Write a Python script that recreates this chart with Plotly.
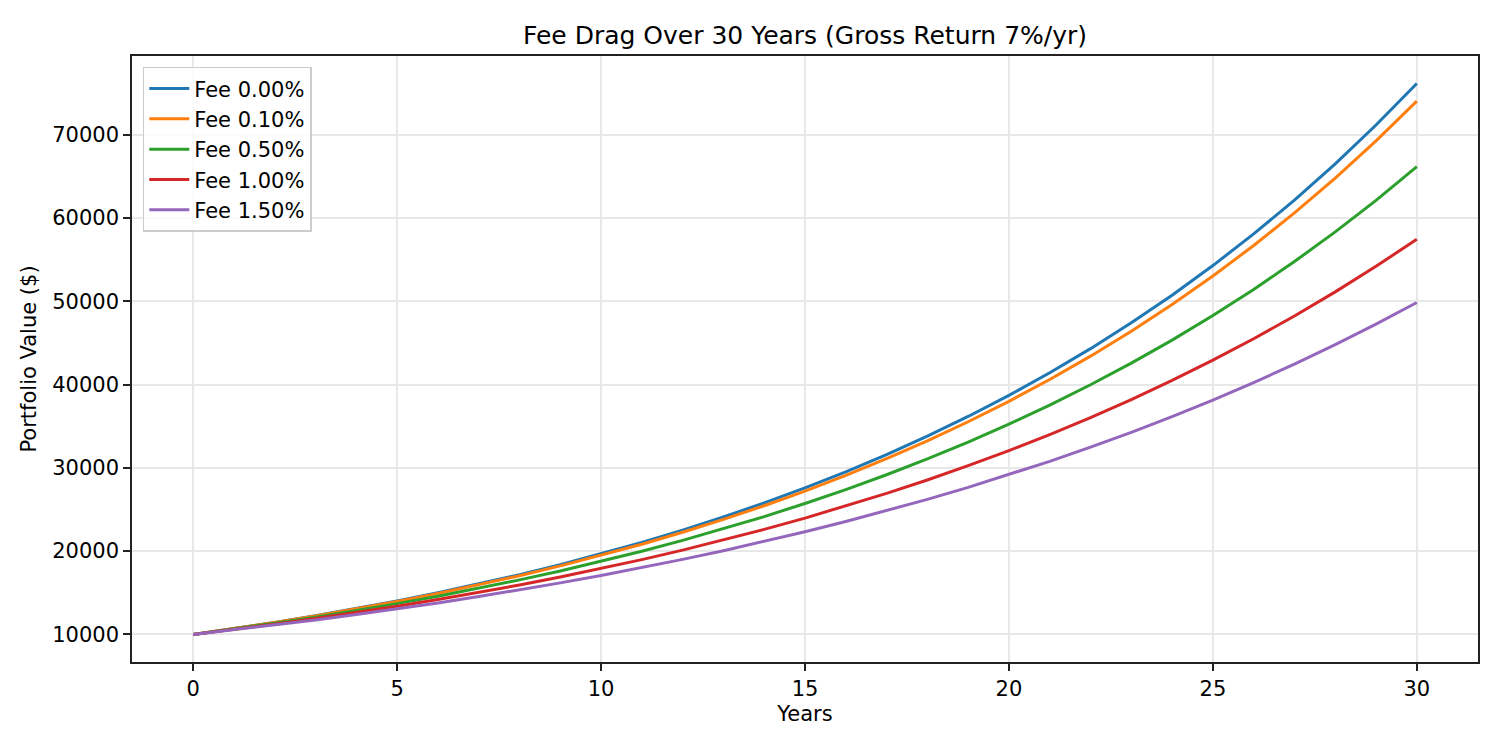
import plotly.graph_objects as go

years = list(range(31))

fee_labels = ["Fee 0.00%", "Fee 0.10%", "Fee 0.50%", "Fee 1.00%", "Fee 1.50%"]
colors = ["#1f77b4", "#ff7f0e", "#2ca02c", "#d62728", "#9467bd"]

fee_000 = [10000, 10700, 11449, 12250, 13108, 14026, 15007, 16058, 17182, 18385,
           19672, 21049, 22522, 24098, 25785, 27590, 29522, 31588, 33799, 36165,
           38697, 41406, 44304, 47405, 50724, 54274, 58074, 62139, 66488, 71143,
           76123]
fee_010 = [10000, 10690, 11428, 12216, 13059, 13960, 14923, 15953, 17054, 18231,
           19489, 20833, 22271, 23807, 25450, 27206, 29083, 31090, 33235, 35528,
           37980, 40600, 43402, 46397, 49598, 53020, 56679, 60590, 64770, 69239,
           74017]
fee_050 = [10000, 10650, 11342, 12079, 12865, 13701, 14591, 15540, 16550, 17626,
           18771, 19991, 21291, 22675, 24149, 25718, 27390, 29170, 31067, 33086,
           35236, 37527, 39966, 42564, 45330, 48277, 51415, 54757, 58316, 62107,
           66144]
fee_100 = [10000, 10600, 11236, 11910, 12625, 13382, 14185, 15036, 15938, 16895,
           17908, 18983, 20122, 21329, 22609, 23966, 25404, 26928, 28543, 30256,
           32071, 33996, 36035, 38197, 40489, 42919, 45494, 48223, 51117, 54184,
           57435]
fee_150 = [10000, 10550, 11130, 11742, 12388, 13070, 13788, 14547, 15347, 16191,
           17081, 18021, 19012, 20058, 21161, 22325, 23553, 24848, 26215, 27656,
           29178, 30782, 32475, 34261, 36146, 38134, 40231, 42444, 44778, 47241,
           49840]

series = [fee_000, fee_010, fee_050, fee_100, fee_150]

fig = go.Figure()
for label, color, values in zip(fee_labels, colors, series):
    fig.add_trace(go.Scatter(
        x=years,
        y=values,
        mode="lines",
        name=label,
        line=dict(color=color, width=3)
    ))

axis_style = dict(
    showline=True,
    linecolor="#222222",
    linewidth=1.6,
    mirror=True,
    ticks="outside",
    ticklen=7,
    tickwidth=1.6,
    tickcolor="#222222",
    showgrid=True,
    gridcolor="#e8e8e8",
    gridwidth=1.5,
    zeroline=False,
    tickfont=dict(size=21, color="black"),
)

# page body adds an 8px offset, so margins are shifted by 8
fig.update_layout(
    width=1500,
    height=750,
    font=dict(family="DejaVu Sans", size=21, color="black"),
    paper_bgcolor="white",
    plot_bgcolor="white",
    margin=dict(l=124, r=30, t=48, b=96),
    title=dict(
        text="Fee Drag Over 30 Years (Gross Return 7%/yr)",
        x=0.5,
        xref="paper",
        y=1 - 27 / 750,
        yref="container",
        xanchor="center",
        yanchor="middle",
        font=dict(size=25),
    ),
    legend=dict(
        x=0.008,
        y=0.982,
        xanchor="left",
        yanchor="top",
        bgcolor="rgba(255,255,255,0.8)",
        bordercolor="#cccccc",
        borderwidth=1.5,
        itemwidth=40,
        font=dict(size=21),
    ),
    showlegend=True,
)

fig.update_xaxes(
    axis_style,
    range=[-1.5, 31.5],
    tickvals=[0, 5, 10, 15, 20, 25, 30],
    title=dict(text="Years", font=dict(size=21), standoff=6),
)
fig.update_yaxes(
    axis_style,
    range=[6694, 79429],
    tickvals=[10000, 20000, 30000, 40000, 50000, 60000, 70000],
    tickformat="d",
    title=dict(text="Portfolio Value ($)", font=dict(size=21), standoff=10),
)

fig.write_html("out.html")
